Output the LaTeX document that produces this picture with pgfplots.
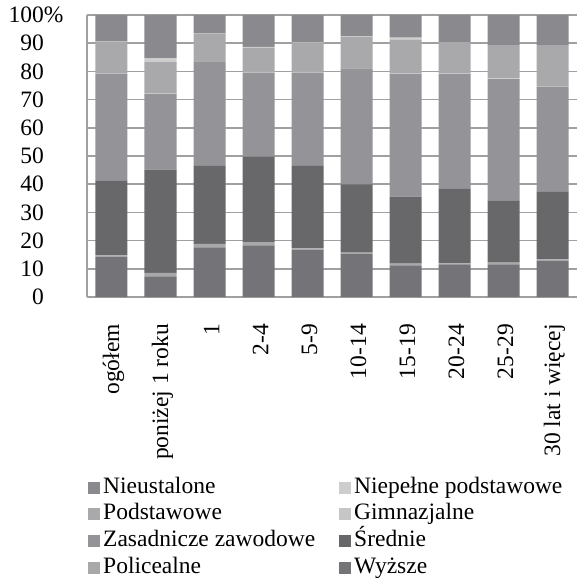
\documentclass[border=0pt]{standalone}
\usepackage{pgfplots}
\pgfplotsset{compat=1.18}
\usepackage{pgfplotstable}
\usepackage{fontspec}
\setmainfont{Liberation Serif}
\definecolor{cNu}{HTML}{8A8A8E}
\definecolor{cN}{HTML}{CDCDCD}
\definecolor{cPd}{HTML}{A9A9AC}
\definecolor{cG}{HTML}{C6C6C6}
\definecolor{cZ}{HTML}{949498}
\definecolor{cS}{HTML}{68686A}
\definecolor{cP}{HTML}{A8A8AA}
\definecolor{cW}{HTML}{747478}
\definecolor{gridgray}{HTML}{A0A0A0}
\pgfplotstableread{
x W P S Z G Pd N Nu
0 14.1 0.7 26.6 37.7 0.3 11.0 0.2 9.4
1 7.3 1.3 36.6 26.8 0.2 11.1 1.4 15.3
2 17.6 1.2 27.9 36.6 0.1 10.1 0.1 6.4
3 18.3 1.2 30.3 29.7 0.3 8.6 0.3 11.3
4 16.8 0.4 29.3 33.0 0.3 10.4 0.2 9.6
5 15.4 0.3 24.2 41.2 0.1 11.1 0.2 7.5
6 11.2 0.6 23.8 43.5 0.2 11.9 0.8 8.0
7 11.6 0.3 26.6 40.6 0.2 10.9 0.1 9.7
8 11.6 0.6 22.1 43.0 0.2 11.8 0.0 10.7
9 12.7 0.6 24.2 37.1 0.2 14.5 0.0 10.7
}\data
\pgfplotsset{lg/.style={draw=none, fill=#1,
  legend image code/.code={\fill[#1] (0bp,-6bp) rectangle (12bp,6bp);}}}
\begin{document}
\begin{tikzpicture}
\path[use as bounding box] (-87bp,-284bp) rectangle (491bp,297bp);
\begin{axis}[
  at={(0,0)}, anchor=south west,
  scale only axis, width=490bp, height=282bp,
  font=\fontsize{23.5bp}{27bp}\selectfont,
  /pgf/number format/assume math mode=true,
  ybar stacked, bar width=32bp,
  xmin=-0.5, xmax=9.5, ymin=0, ymax=100,
  axis x line*=bottom, axis y line*=left,
  axis line style={gridgray, line width=1.5bp},
  xtick={0,...,9},
  xticklabels={ogółem,poniżej 1 roku,1,2-4,5-9,10-14,15-19,20-24,25-29,30 lat i więcej},
  x tick style={draw=none},
  xticklabel style={rotate=90, anchor=east, inner sep=0pt, yshift=-2bp},
  xticklabel shift=27bp,
  extra x ticks={-0.5,0.5,...,9.5},
  extra x tick labels={},
  extra x tick style={major tick length=6bp, tick align=outside, tick style={draw=gridgray, line width=1.5bp}, grid=none},
  ytick={0,10,...,100},
  yticklabels={0,10,20,30,40,50,60,70,80,90,100\rlap{\%}},
  y tick style={draw=none},
  yticklabel style={anchor=east, inner sep=0pt, xshift=-43bp},
  ymajorgrids,
  major grid style={draw=gridgray, line width=1.5bp},
  reverse legend,
  legend columns=2,
  legend cell align=left,
  legend style={at={(0,0)}, anchor=north west, xshift=1bp, yshift=-179bp,
    draw=none, fill=none, inner sep=0pt, row sep=3.7bp,
    font=\fontsize{23.5bp}{27bp}\selectfont,
    nodes={inner xsep=3bp, inner ysep=0pt, text height=17bp, text depth=6bp},
    /tikz/column 2/.style={column sep=21bp}},
]
\addplot[lg=cW] table[x=x,y=W]{\data};
\addlegendentry{Wyższe}
\addplot[lg=cP] table[x=x,y=P]{\data};
\addlegendentry{Policealne}
\addplot[lg=cS] table[x=x,y=S]{\data};
\addlegendentry{Średnie}
\addplot[lg=cZ] table[x=x,y=Z]{\data};
\addlegendentry{Zasadnicze zawodowe}
\addplot[lg=cG] table[x=x,y=G]{\data};
\addlegendentry{Gimnazjalne}
\addplot[lg=cPd] table[x=x,y=Pd]{\data};
\addlegendentry{Podstawowe}
\addplot[lg=cN] table[x=x,y=N]{\data};
\addlegendentry{Niepełne podstawowe}
\addplot[lg=cNu] table[x=x,y=Nu]{\data};
\addlegendentry{Nieustalone}
\end{axis}
\end{tikzpicture}
\end{document}
